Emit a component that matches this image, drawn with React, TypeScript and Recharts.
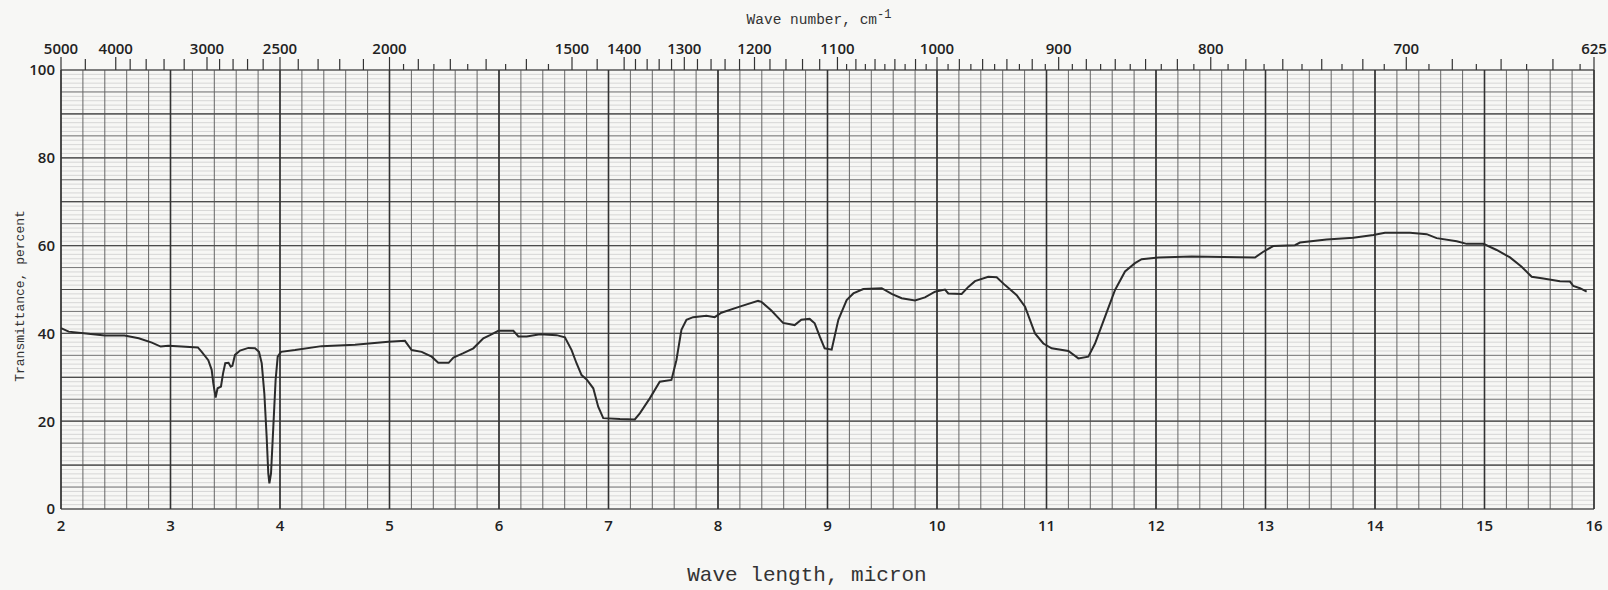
import { LineChart, Line, XAxis, YAxis, CartesianGrid } from "recharts";

// wavelength (micron) and % transmittance
const wavelength = [
  2.0, 2.07, 2.25, 2.4, 2.58, 2.71, 2.83, 2.91, 2.98, 3.1, 3.25, 3.285, 3.345, 3.376, 3.391, 3.412,
  3.43, 3.461, 3.48, 3.5, 3.53, 3.55, 3.565, 3.589, 3.635, 3.711, 3.772, 3.808, 3.833, 3.857, 3.878,
  3.893, 3.903, 3.918, 3.939, 3.96, 3.979, 4.009, 4.137, 4.38, 4.685, 4.99, 5.141, 5.202, 5.294, 5.385,
  5.445, 5.54, 5.584, 5.675, 5.766, 5.857, 5.918, 5.994, 6.131, 6.177, 6.253, 6.375, 6.526, 6.602,
  6.663, 6.708, 6.754, 6.8, 6.861, 6.906, 6.952, 7.104, 7.24, 7.286, 7.377, 7.468, 7.575, 7.62, 7.666,
  7.712, 7.773, 7.894, 7.97, 8.031, 8.198, 8.366, 8.396, 8.487, 8.594, 8.7, 8.761, 8.837, 8.883, 8.929,
  8.974, 9.038, 9.099, 9.175, 9.236, 9.327, 9.495, 9.586, 9.677, 9.799, 9.89, 9.982, 10.073, 10.103,
  10.225, 10.286, 10.347, 10.468, 10.545, 10.621, 10.728, 10.804, 10.895, 10.971, 11.047, 11.2, 11.291,
  11.382, 11.443, 11.535, 11.626, 11.717, 11.808, 11.869, 12.022, 12.326, 12.904, 12.98, 13.071, 13.269,
  13.315, 13.558, 13.802, 13.985, 14.091, 14.32, 14.472, 14.563, 14.746, 14.837, 14.99, 15.111, 15.233,
  15.339, 15.431, 15.537, 15.689, 15.781, 15.811, 15.872, 15.933,
];
const transmittance = [
  41.2, 40.4, 39.9, 39.5, 39.5, 38.9, 37.9, 37.0, 37.2, 37.0, 36.8, 35.8, 33.9, 31.7, 28.6, 25.4,
  27.5, 27.9, 30.9, 33.2, 33.3, 32.4, 32.6, 35.1, 36.1, 36.7, 36.6, 35.8, 33.2, 26.3, 16.5,
  8.1, 5.85, 8.1, 18.7, 29.4, 34.7, 35.8, 36.2, 37.1, 37.4, 38.1, 38.3, 36.2, 35.8, 34.7,
  33.3, 33.3, 34.5, 35.5, 36.6, 38.9, 39.6, 40.6, 40.6, 39.3, 39.3, 39.8, 39.6, 39.1,
  36.2, 33.2, 30.5, 29.5, 27.5, 23.3, 20.7, 20.5, 20.4, 21.8, 25.2, 29.0, 29.4, 33.9, 40.8,
  43.1, 43.7, 44.0, 43.7, 44.7, 46.1, 47.4, 47.2, 45.2, 42.4, 41.9, 43.1, 43.3, 42.3, 39.3,
  36.6, 36.3, 43.1, 47.6, 49.1, 50.1, 50.3, 49.0, 48.0, 47.5, 48.2, 49.5, 50.0, 49.1,
  49.0, 50.6, 51.9, 52.9, 52.8, 51.0, 48.7, 46.1, 40.0, 37.7, 36.6, 36.0, 34.3,
  34.7, 37.7, 43.8, 49.9, 54.1, 56.0, 56.9, 57.3, 57.5, 57.3, 58.6, 59.9, 60.1,
  60.7, 61.4, 61.8, 62.4, 62.9, 62.9, 62.6, 61.7, 61.0, 60.4, 60.4, 59.0, 57.3,
  55.2, 52.9, 52.5, 51.9, 51.8, 50.8, 50.3, 49.5,
];

const bottomTicks = [2, 3, 4, 5, 6, 7, 8, 9, 10, 11, 12, 13, 14, 15, 16];
const yTicks = [0, 20, 40, 60, 80, 100];

// wave number scale along the top (cm-1)
const topLabelWn = [5000, 4000, 3000, 2500, 2000, 1500, 1400, 1300, 1200, 1100, 1000, 900, 800, 700, 625];
const topLongWn = [
  4500, 3800, 3600, 3400, 3200, 2900, 2800, 2700, 2600, 2400, 2300, 2200, 2100, 1900, 1800, 1700, 1600,
  1450, 1380, 1360, 1340, 1320, 1280, 1260, 1240, 1220, 1180, 1160, 1140, 1120, 1080, 1060, 1040, 1020,
  980, 960, 940, 920, 880, 860, 840, 820, 780, 760, 740, 720, 680, 660, 640,
];
const topShortWn = [
  1950, 1850, 1750, 1650, 1550, 1090, 1070, 1050, 1030, 1010, 990, 970, 950, 930, 910, 890, 870, 850,
  830, 810, 790, 770, 750, 730, 710, 690, 670, 650, 630,
];

const data = wavelength.map((x, i) => ({ x, t: transmittance[i] }));
const topTicks = [...topLabelWn, ...topLongWn, ...topShortWn].map((wn) => 10000 / wn);

// chart paper rulings
const pctFine = Array.from({ length: 101 }, (_, i) => i);
const pctFive = Array.from({ length: 21 }, (_, i) => i * 5);
const pctTen = Array.from({ length: 11 }, (_, i) => i * 10);
const umFine = Array.from({ length: 71 }, (_, i) => 2 + i * 0.2);

const INK = "#2b2b2b";
const tickFont = "'Open Sans', 'DejaVu Sans', sans-serif";
const monoFont = "'Liberation Mono', 'DejaVu Sans Mono', monospace";

function TopTick(props: any) {
  const { x, y, payload } = props;
  const wn = Math.round(10000 / payload.value);
  const isLabel = topLabelWn.includes(wn);
  const isShort = topShortWn.includes(wn);
  const len = isLabel ? 13 : isShort ? 6 : 11;
  return (
    <g>
      <line x1={x} x2={x} y1={y} y2={y - len} stroke="#333" strokeWidth={1.2} />
      {isLabel && (
        <text
          x={x}
          y={y - 16}
          textAnchor="middle"
          fontSize={15}
          fontWeight={600}
          fontFamily={tickFont}
          fill="#222"
        >
          {wn}
        </text>
      )}
    </g>
  );
}

export default function App() {
  return (
    <div
      style={{
        position: "absolute",
        left: 0,
        top: 0,
        width: 1608,
        height: 590,
        background: "#f7f7f5",
        overflow: "hidden",
      }}
    >
      <LineChart
        width={1608}
        height={590}
        data={data}
        margin={{ top: 30, right: 14, bottom: 41, left: 0 }}
      >
        <CartesianGrid
          xAxisId="bottom"
          vertical={false}
          horizontalValues={pctFine}
          stroke="#c8c8c8"
          strokeWidth={0.7}
        />
        <CartesianGrid
          xAxisId="bottom"
          vertical={false}
          horizontalValues={pctFive}
          stroke="#7a7a7a"
          strokeWidth={1}
        />
        <CartesianGrid
          xAxisId="bottom"
          horizontal={false}
          verticalValues={umFine}
          stroke="#666"
          strokeWidth={1}
        />
        <CartesianGrid
          xAxisId="bottom"
          vertical={false}
          horizontalValues={pctTen}
          stroke="#4d4d4d"
          strokeWidth={1.2}
        />
        <CartesianGrid
          xAxisId="bottom"
          horizontal={false}
          verticalValues={bottomTicks}
          stroke="#333"
          strokeWidth={1.6}
        />
        <XAxis
          xAxisId="bottom"
          dataKey="x"
          type="number"
          domain={[2, 16]}
          ticks={bottomTicks}
          interval={0}
          height={40}
          axisLine={false}
          tickLine={false}
          tickSize={0}
          tickMargin={11}
          tick={{ fontSize: 15, fontWeight: 600, fill: "#222", fontFamily: tickFont }}
        />
        <XAxis
          xAxisId="top"
          orientation="top"
          dataKey="x"
          type="number"
          domain={[2, 16]}
          ticks={topTicks}
          interval={0}
          height={40}
          axisLine={false}
          tickLine={false}
          tickSize={0}
          tickMargin={0}
          tick={<TopTick />}
        />
        <YAxis
          type="number"
          domain={[0, 100]}
          ticks={yTicks}
          interval={0}
          width={61}
          axisLine={false}
          tickLine={false}
          tickSize={0}
          tickMargin={6}
          tick={{ fontSize: 15, fontWeight: 600, fill: "#222", fontFamily: tickFont }}
        />
        <Line
          xAxisId="bottom"
          type="linear"
          dataKey="t"
          stroke={INK}
          strokeWidth={2}
          dot={false}
          isAnimationActive={false}
        />
      </LineChart>

      <div
        style={{
          position: "absolute",
          left: 0,
          width: 1608,
          top: 8,
          textAlign: "center",
          paddingLeft: 30,
          boxSizing: "border-box",
          fontFamily: monoFont,
          fontSize: 14.5,
          color: "#333",
        }}
      >
        Wave number, cm<sup style={{ fontSize: 12 }}>-1</sup>
      </div>
      <div
        style={{
          position: "absolute",
          left: 0,
          width: 1608,
          top: 564,
          textAlign: "center",
          paddingLeft: 6,
          boxSizing: "border-box",
          fontFamily: monoFont,
          fontSize: 21,
          color: "#333",
        }}
      >
        Wave length, micron
      </div>
      <div
        style={{
          position: "absolute",
          left: 19.5,
          top: 296,
          transform: "translate(-50%, -50%) rotate(-90deg)",
          whiteSpace: "nowrap",
          fontFamily: monoFont,
          fontSize: 13,
          color: "#333",
        }}
      >
        Transmittance, percent
      </div>
    </div>
  );
}
